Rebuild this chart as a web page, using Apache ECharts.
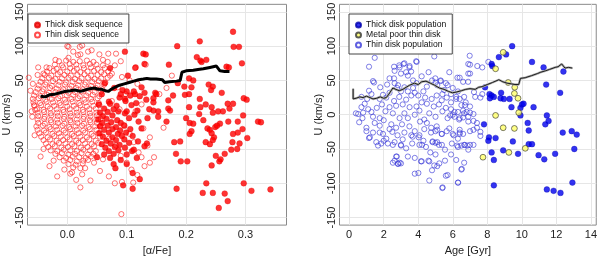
<!DOCTYPE html>
<html><head><meta charset="utf-8">
<script src="https://cdn.jsdelivr.net/npm/echarts@6/dist/echarts.min.js"></script>
<style>html,body{margin:0;padding:0;background:#fff}#c{width:600px;height:261px}</style>
</head><body><div id="c"></div>
<script>
// ---------- tick values ----------
const alphaTicks = [0.0, 0.1, 0.2, 0.3];
const ageTicks = [0, 2, 4, 6, 8, 10, 12, 14];
const uTicks = [-150, -100, -50, 0, 50, 100, 150];

// ---------- left panel: [alpha/Fe, U] ----------
const thinSequence = [
[-0.065,54],[0.000,100],[0.025,101],[0.041,94],[0.022,88],[0.002,83],[-0.049,69],[0.069,89],[0.082,89],[0.054,88],[0.068,77],[0.114,68],[0.132,73],[-0.056,14],[-0.054,7],[-0.060,5],[-0.059,-3],[-0.045,-61],[-0.023,-67],[-0.017,-90],[0.005,-86],[0.008,-84],[0.025,-87],[0.022,-106],[0.039,-96],[0.091,-145],[0.092,-98],[0.111,-99],[0.176,57],[0.167,39],[0.155,30],[0.139,-33],[0.146,-62],[0.139,-70],[0.162,-19],[0.021,99],[0.002,99],[0.018,87],[-0.035,69],[0.035,92],[0.010,92],[-0.020,80],[-0.040,60],[0.060,80],[0.090,78],[0.080,72],[0.075,60],[-0.062,35],[-0.058,45],[-0.050,58],[-0.055,-30],[-0.040,-50],[-0.030,-75],[-0.005,-80],[0.015,-95],[0.030,-78],[0.045,-70],[0.055,-82],[0.060,-65],[0.070,-90],[0.080,-100],
[0.075,20],[0.088,8],[0.095,-15],[0.105,-28],[0.112,-40],[0.120,-55],[0.125,-62],[0.130,-75],[0.100,-70],[0.108,-80],[0.118,-88],[0.090,-60],[0.082,-45],[0.070,-35],[0.128,-20],[0.135,-45],[0.115,5],[0.125,15],[0.098,30],[0.085,40],[0.092,55],[0.105,50],[0.118,45],
[-0.014,78],[-0.002,79],[0.010,77],[0.021,78],[0.033,79],[0.044,77],
[-0.021,73],[-0.009,72],[0.004,74],[0.015,73],[0.027,72],[0.038,74],[0.049,73],[0.060,72],
[-0.030,68],[-0.018,67],[-0.007,69],[0.005,68],[0.016,67],[0.028,68],[0.040,69],[0.051,67],[0.063,68],
[-0.034,63],[-0.023,64],[-0.012,62],[0.000,63],[0.011,64],[0.022,62],[0.034,63],[0.045,64],[0.057,62],[0.069,63],
[-0.038,58],[-0.027,57],[-0.016,59],[-0.005,58],[0.006,57],[0.017,58],[0.029,59],[0.040,57],[0.051,58],[0.062,59],[0.072,57],
[-0.042,53],[-0.031,54],[-0.020,52],[-0.009,53],[0.002,54],[0.013,52],[0.024,53],[0.035,54],[0.046,52],[0.057,53],[0.068,54],
[-0.045,48],[-0.035,47],[-0.024,49],[-0.013,48],[-0.002,47],[0.009,48],[0.020,49],[0.031,47],[0.042,48],[0.053,49],[0.064,47],
[-0.048,43],[-0.037,44],[-0.026,42],[-0.015,43],[-0.004,44],[0.007,42],[0.018,43],[0.029,44],[0.040,42],[0.051,43],[0.062,44],
[-0.050,38],[-0.040,37],[-0.029,39],[-0.018,38],[-0.007,37],[0.004,38],[0.015,39],[0.026,37],[0.037,38],[0.048,39],[0.059,37],
[-0.053,33],[-0.042,34],[-0.031,32],[-0.020,33],[-0.009,34],[0.002,32],[0.013,33],[0.024,34],[0.035,32],[0.046,33],[0.057,34],
[-0.056,28],[-0.045,27],[-0.034,29],[-0.023,28],[-0.012,27],[-0.001,28],[0.010,29],[0.021,27],[0.032,28],[0.043,29],[0.054,27],
[-0.058,23],[-0.048,24],[-0.037,22],[-0.026,23],[-0.015,24],[-0.004,22],[0.007,23],[0.018,24],[0.029,22],[0.040,23],[0.051,24],
[-0.057,18],[-0.046,17],[-0.035,19],[-0.024,18],[-0.013,17],[-0.002,18],[0.009,19],[0.020,17],[0.031,18],[0.042,19],[0.053,17],
[-0.055,13],[-0.044,14],[-0.033,12],[-0.022,13],[-0.011,14],[0.000,12],[0.011,13],[0.022,14],[0.033,12],[0.044,13],[0.054,14],
[-0.051,8],[-0.040,7],[-0.029,9],[-0.018,8],[-0.007,7],[0.004,8],[0.015,9],[0.026,7],[0.037,8],[0.048,9],
[-0.050,3],[-0.039,4],[-0.028,2],[-0.017,3],[-0.006,4],[0.005,2],[0.016,3],[0.027,4],[0.038,2],[0.049,3],
[-0.049,-2],[-0.038,-3],[-0.027,-1],[-0.016,-2],[-0.005,-3],[0.006,-2],[0.017,-1],[0.028,-3],[0.039,-2],[0.050,-1],
[-0.050,-7],[-0.039,-6],[-0.028,-8],[-0.017,-7],[-0.006,-6],[0.005,-8],[0.016,-7],[0.027,-6],[0.038,-8],[0.049,-7],[0.056,-6],
[-0.049,-12],[-0.038,-13],[-0.027,-11],[-0.016,-12],[-0.005,-13],[0.006,-11],[0.017,-12],[0.028,-13],[0.039,-11],[0.050,-12],
[-0.052,-17],[-0.041,-16],[-0.030,-18],[-0.019,-17],[-0.008,-16],[0.003,-18],[0.014,-17],[0.025,-16],[0.036,-18],[0.047,-17],[0.056,-16],
[-0.050,-22],[-0.039,-23],[-0.028,-21],[-0.017,-22],[-0.006,-23],[0.005,-21],[0.016,-22],[0.027,-23],[0.038,-21],[0.049,-22],
[-0.047,-27],[-0.036,-26],[-0.025,-28],[-0.014,-27],[-0.003,-26],[0.008,-28],[0.019,-27],[0.030,-26],[0.041,-28],[0.052,-27],
[-0.044,-32],[-0.033,-33],[-0.022,-31],[-0.011,-32],[0.000,-33],[0.011,-31],[0.022,-32],[0.033,-33],[0.044,-31],[0.055,-32],
[-0.040,-37],[-0.029,-36],[-0.018,-38],[-0.007,-37],[0.004,-36],[0.015,-38],[0.026,-37],[0.037,-36],[0.048,-38],
[-0.036,-42],[-0.025,-43],[-0.014,-41],[-0.003,-42],[0.008,-43],[0.019,-41],[0.030,-42],[0.041,-43],[0.052,-41],
[-0.032,-47],[-0.021,-46],[-0.010,-48],[0.001,-47],[0.012,-46],[0.023,-48],[0.034,-47],[0.045,-46],
[-0.028,-52],[-0.017,-53],[-0.006,-51],[0.005,-52],[0.016,-53],[0.027,-51],[0.038,-52],[0.048,-53],
[-0.020,-57],[-0.009,-56],[0.002,-58],[0.013,-57],[0.024,-56],[0.035,-58],[0.044,-57],
[-0.013,-62],[-0.002,-63],[0.009,-61],[0.020,-62],[0.031,-63],[0.040,-61],
[-0.006,-67],[0.005,-66],[0.016,-68],[0.027,-67],[0.035,-66],
[0.002,-72],[0.014,-73],[0.026,-71],[0.010,-77],[0.022,-78]
];

const thickSequence = [
[0.097,92],[0.128,89],[0.132,88],[0.072,68],[0.279,121],[0.223,107],[0.185,100],[0.280,99],[0.289,99],[0.218,84],[0.224,79],[0.226,77],[0.234,80],[0.294,75],[0.171,73],[0.268,70],[0.272,69],[0.205,53],[0.212,50],[0.186,46],[0.197,41],[0.209,40],[0.238,44],[0.245,41],[0.242,36],[0.260,32],[0.148,32],[0.150,30],[0.178,28],[0.198,29],[0.205,30],[0.170,21],[0.145,24],[0.223,23],[0.297,24],[0.302,22],[0.233,15],[0.243,11],[0.254,5],[0.262,5],[0.245,3],[0.224,11],[0.222,1],[0.205,11],[0.270,16],[0.279,16],[0.273,9],[0.296,-1],[0.200,-5],[0.170,9],[0.173,6],[0.153,5],[0.153,-3],[0.206,-12],[0.212,-13],[0.229,-8],[0.257,-13],[0.271,-10],[0.287,-10],[0.321,-10],[0.326,-11],[0.167,-10],[0.145,18],[0.145,6],
[0.209,-24],[0.206,-28],[0.180,-40],[0.190,-39],[0.183,-57],[0.191,-68],[0.202,-68],[0.184,-108],[0.236,-20],[0.240,-22],[0.243,-27],[0.247,-33],[0.249,-18],[0.252,-16],[0.233,-40],[0.240,-43],[0.245,-37],[0.250,-60],[0.256,-68],[0.258,-65],[0.243,-74],[0.265,-57],[0.276,-51],[0.278,-40],[0.279,-28],[0.287,-26],[0.295,-21],[0.303,-34],[0.290,-42],[0.286,-50],[0.234,-100],[0.228,-114],[0.245,-114],[0.265,-115],[0.270,-126],[0.255,-136],[0.297,-100],[0.310,-111],[0.342,-109],
[0.050,-62],[0.081,-78],[0.094,-103],[0.110,-108],[0.110,-85],[0.122,-94],[0.134,-42],[0.117,-63],[0.109,-53],
[0.102,57],[0.115,69],[0.130,74],[0.063,46],[0.079,39],[0.093,36],[0.100,34],[0.114,30],[0.122,27],[0.130,32],[0.088,25],[0.097,23],
[0.058,30],[0.070,19],[0.090,30],[0.098,20],[0.106,28],[0.112,34],[0.116,17],[0.118,6],[0.100,5],[0.125,40],[0.133,22],[0.138,8],[0.135,-5],
[0.053,15],[0.072,16],[0.083,13],[0.108,14],
[0.062,9],[0.078,8],
[0.055,3],[0.068,4],[0.086,5],[0.097,2],
[0.060,-2],[0.076,-1],[0.113,0],
[0.052,-7],[0.066,-6],[0.084,-8],[0.104,-5],
[0.059,-12],[0.074,-11],[0.090,-12],[0.120,-10],
[0.055,-17],[0.068,-16],[0.082,-18],[0.096,-16],
[0.062,-22],[0.076,-21],[0.089,-23],[0.106,-21],[0.125,-20],
[0.054,-27],[0.070,-26],[0.085,-28],[0.099,-26],
[0.060,-32],[0.076,-33],[0.092,-31],[0.110,-31],
[0.066,-38],[0.082,-37],[0.096,-36],
[0.058,-43],[0.073,-42],[0.088,-44],[0.104,-41],[0.119,-39],
[0.064,-48],[0.080,-47],[0.097,-48],[0.130,-46],
[0.070,-53],[0.086,-52],[0.112,-51],
[0.062,-58],[0.078,-57],[0.100,-58],
[0.072,-63],[0.090,-66],[0.078,-72],[0.100,-72]
];

// running curve, left panel
const alphaCurve = [
[-0.045,27],[-0.037,26],[-0.030,29],[-0.021,30],[-0.012,32],[-0.004,34],[0.005,35],[0.013,36],[0.022,34],[0.030,36],[0.038,38],[0.046,39],[0.052,37],[0.058,37],[0.064,35],[0.069,34],[0.074,37],[0.080,40],[0.088,43],[0.096,45],[0.104,47],[0.112,49],[0.120,51],[0.128,52],[0.134,53],[0.140,52],[0.150,52],[0.160,51],[0.164,47],[0.172,48],[0.184,49],[0.190,50],[0.193,62],[0.200,64],[0.212,65],[0.220,66],[0.229,67],[0.240,69],[0.251,71],[0.254,73],[0.257,64],[0.265,63],[0.273,63]
];

// ---------- right panel: [Age, U] ----------
const thinPopulation = [
[1.48,83],[1.15,70],[2.63,64],[2.92,69],[3.15,74],[3.49,69],[3.59,63],[3.91,77],[2.60,53],[3.00,60],[3.30,62],[3.40,57],[1.38,49],[1.44,47],[1.15,35],[1.29,30],[1.04,23],[0.71,26],[0.90,16],[0.52,1],[0.81,3],[0.77,-5],[1.10,8],[1.29,4],[1.38,-3],[1.77,-5],[1.48,-12],[1.77,23],[1.96,29],[2.15,25],[2.34,32],
[2.83,43],[2.78,39],[3.00,34],[3.20,40],[3.40,34],[3.70,39],[3.90,46],[3.80,32],[4.00,28],[4.30,34],[4.50,41],
[4.99,53],[5.30,50],[5.10,43],[5.50,36],[5.70,43],[6.00,39],[6.30,34],[6.60,48],[7.00,60],[7.00,73],[6.40,54],
[4.50,16],[4.78,23],[5.07,28],[5.36,21],[5.65,25],[5.90,18],[6.20,23],[6.50,14],[6.75,18],
[2.34,11],[2.53,2],[2.72,13],[2.92,-5],[3.20,2],[3.50,11],[3.80,0],[4.07,6],[4.35,-7],[4.64,2],[5.00,-3],[5.40,5],[5.70,-5],[6.00,0],[6.37,-7],[6.66,2],
[2.44,-14],[2.72,-19],[3.06,-14],[3.20,-26],[3.49,-17],[3.80,-24],[4.07,-30],[4.35,-21],[4.74,-26],[5.07,-17],[5.36,-28],[5.65,-24],[6.05,-30],[6.40,-26],
[1.77,-16],[1.96,-28],[2.15,-35],[2.34,-21],[1.38,-26],[1.20,-33],[1.57,-40],[1.86,-42],[1.00,-19],
[2.63,-40],[3.00,-44],[3.30,-49],[3.65,-42],[4.07,-44],[4.45,-47],[4.83,-40],[5.20,-44],[5.55,-51],[5.95,-42],[6.30,-47],[6.66,-44],
[2.72,-61],[2.92,-70],[3.40,-61],[3.80,-63],[4.16,-68],[4.64,-68],[5.10,-75],[5.55,-67],[6.20,-66],[6.66,-70],
[3.80,-86],[4.64,-96],[5.40,-107],[6.30,-99],[5.70,-88],[6.50,-80],[2.53,-70],[2.83,-72],
[1.15,-34],[1.67,-45],[1.77,-26],[2.00,-38],[2.24,-42],[2.53,-44],[2.50,-25],[2.76,-61],[2.63,-67],[2.82,-71],[3.00,-71],[3.00,-45],[3.68,-32],[4.03,-33],[4.22,-44],[4.01,-85],[4.20,-68],[4.59,-67],[4.80,-81],[4.93,-74],[5.22,-71],[5.41,-106],[5.60,-89],[4.83,-39],[5.00,-41],[5.37,-44],[5.10,-40],[4.75,-19],[5.00,-24],[5.37,-28],[5.10,-22],[1.00,-24],
[6.98,86],[6.90,74],[7.42,71],[7.71,69],[8.06,77],[6.90,60],[6.27,54],[6.89,48],[5.90,30],[6.20,26],[6.40,23],[6.66,26],[7.23,33],[7.30,26],[7.60,25],[7.71,30],[6.70,14],[7.00,12],[6.60,6],[6.80,4],[7.00,3],[7.20,1],[6.90,-3],[5.90,8],[6.10,4],[6.30,4],[5.85,-1],[6.10,-3],[6.40,-5],[6.60,-4],[6.90,-10],[7.20,-9],[7.40,-12],[5.80,-20],[6.00,-28],[6.40,-22],[6.40,-28],[6.60,-28],[7.00,-24],[7.20,-22],[7.40,-19],[7.60,-25],[7.60,-31],[6.30,-35],[6.25,-45],[6.50,-45],[6.70,-44],[6.85,-45],[7.00,-44],[7.20,-44],[6.90,-51],[6.52,-79],[6.31,-99],
[3.88,78],[4.93,85],[2.60,70],[2.90,72],[3.20,75],[3.50,71],[2.34,53],[2.63,46],[4.80,50],[5.00,47],[5.30,49],[5.60,46],[0.39,2],[0.71,11],[0.58,-11],
[1.60,10],[1.90,15],[2.10,5],[2.00,-8],[2.60,20],[2.90,26],[3.10,15],[3.30,22],[3.60,28],[3.90,12],[4.20,18],[4.40,25],[4.10,-10],[4.50,-12],[4.90,12],[5.20,15],[5.60,10],[3.60,-30],[3.40,-5],[2.80,-30],[3.10,-36],[4.30,-38],[4.70,-55],[5.00,-58],[5.90,-58],[3.70,50],[4.20,56],[4.60,62],[2.20,44],[1.80,40],[5.80,62],[5.40,30]
];

const thickPopulation = [
[9.44,100],[8.67,84],[9.09,88],[8.25,74],[8.29,71],[10.59,77],[11.26,69],[12.41,63],[11.41,44],[12.22,32],[7.87,40],[8.13,30],[8.25,28],[8.38,26],[8.15,24],[8.80,32],[8.77,24],[8.96,23],[9.29,23],[9.40,11],[9.92,10],[10.01,15],[10.10,16],[9.92,-1],[10.68,11],[11.45,-1],[10.34,-12],[11.36,-14],[11.55,-9],[7.81,-14],[10.40,-23],[8.10,-33],[8.06,-38],[8.48,-34],[9.48,-39],[10.40,-43],[10.59,-43],[12.37,-26],[12.89,-24],[13.18,-29],[13.04,-50],[8.25,-55],[8.38,-66],[8.92,-52],[9.78,-57],[10.97,-59],[11.30,-65],[11.93,-57],[8.38,-103],[11.45,-109],[11.84,-111],[12.24,-114],[12.93,-99]
];

const metalPoorThin = [
[8.92,91],[8.48,67],[9.21,47],[9.59,40],[9.57,31],[9.78,24],[9.82,3],[8.48,-1],[8.92,-19],[9.57,-20],[10.20,-49],[9.25,-55],[7.75,-62]
];

// running curve, right panel
const ageCurve = [
[0.23,38],[0.23,23],[0.40,24],[0.62,26],[0.80,25],[1.00,27],[1.20,25],[1.38,23],[1.60,24],[1.80,26],[2.00,24],[2.15,25],[2.30,30],[2.53,39],[2.70,37],[2.90,35],[3.11,37],[3.30,40],[3.50,43],[3.78,46],[4.00,44],[4.20,48],[4.45,49],[4.70,46],[4.95,43],[5.22,39],[5.50,37],[5.75,34],[5.98,32],[6.20,33],[6.50,35],[6.75,37],[7.00,38],[7.30,37],[7.50,40],[7.71,41],[8.00,44],[8.30,47],[8.67,51],[8.90,48],[9.15,46],[9.40,45],[9.60,44],[9.82,44],[9.92,53],[10.20,54],[10.57,57],[10.90,60],[11.10,62],[11.36,64],[11.60,66],[11.93,69],[12.10,70],[12.31,74],[12.50,68],[12.70,69],[12.93,68]
];

// ---------- chart ----------
const FONT = '"Liberation Sans", Arial, sans-serif';
const chart = echarts.init(document.getElementById('c'), null, {renderer: 'canvas'});

function gridLines(xt, yt) {
  return {
    silent: true, symbol: 'none', z: 1, animation: false,
    label: {show: false},
    lineStyle: {color: '#e6e6e6', width: 1, type: 'solid'},
    emphasis: {disabled: true},
    data: xt.map(v => ({xAxis: v})).concat(yt.map(v => ({yAxis: v})))
  };
}

function xAx(idx, min, max, ticks, name, fmt) {
  return {
    gridIndex: idx, type: 'value', min: min, max: max,
    axisLine: {show: false}, splitLine: {show: false},
    axisTick: {show: false},
    axisLabel: {customValues: ticks, formatter: fmt, fontFamily: FONT, fontSize: 11, color: '#222', margin: 4},
    name: name, nameLocation: 'middle', nameGap: 16,
    nameTextStyle: {fontFamily: FONT, fontSize: 11, color: '#222'}
  };
}
function yAx(idx) {
  return {
    gridIndex: idx, type: 'value', min: -161, max: 161,
    axisLine: {show: false}, splitLine: {show: false},
    axisTick: {show: true, customValues: uTicks, length: 3, lineStyle: {color: '#555'}},
    axisLabel: {customValues: uTicks, rotate: 90, fontFamily: FONT, fontSize: 11, color: '#222', margin: 2},
    name: 'U (km/s)', nameLocation: 'middle', nameGap: 15,
    nameTextStyle: {fontFamily: FONT, fontSize: 11, color: '#222'}
  };
}

const legendCommon = {
  orient: 'vertical', backgroundColor: '#fff', borderColor: '#444', borderWidth: 1,
  borderRadius: 0, itemGap: 0, itemWidth: 5, itemHeight: 5, icon: 'circle',
  textStyle: {fontFamily: FONT, fontSize: 8.6, color: '#111', lineHeight: 10},
  selectedMode: false
};

chart.setOption({
  animation: false,
  backgroundColor: '#fff',
  grid: [
    {left: 27.5, top: 2, width: 259, height: 232, show: true, borderColor: '#8a8a8a', borderWidth: 1, backgroundColor: 'transparent'},
    {left: 339.5, top: 2, width: 258.5, height: 232, show: true, borderColor: '#8a8a8a', borderWidth: 1, backgroundColor: 'transparent'}
  ],
  xAxis: [
    xAx(0, -0.067, 0.369, alphaTicks, '[\u03b1/Fe]', v => v.toFixed(1)),
    xAx(1, -0.56, 14.31, ageTicks, 'Age [Gyr]', v => String(v))
  ],
  yAxis: [yAx(0), yAx(1)],
  legend: [
    Object.assign({}, legendCommon, {left: 28, top: 14, padding: [6, 6, 3, 6],
      data: ['Thick disk sequence', 'Thin disk sequence']}),
    Object.assign({}, legendCommon, {left: 349, top: 14, padding: [6, 6, 4, 6],
      data: ['Thick disk population', 'Metal poor thin disk', 'Thin disk population']})
  ],
  series: [
    {type: 'scatter', name: 'gridL', xAxisIndex: 0, yAxisIndex: 0, data: [], z: 1, markLine: gridLines(alphaTicks, uTicks)},
    {type: 'scatter', name: 'gridR', xAxisIndex: 1, yAxisIndex: 1, data: [], z: 1, markLine: gridLines(ageTicks, uTicks)},
    {type: 'scatter', name: 'Thin disk sequence', xAxisIndex: 0, yAxisIndex: 0, data: thinSequence,
      symbol: 'circle', symbolSize: 5.2, z: 2,
      itemStyle: {color: 'rgba(255,255,255,0)', borderColor: '#ff2020', borderWidth: 0.8}},
    {type: 'scatter', name: 'Thick disk sequence', xAxisIndex: 0, yAxisIndex: 0, data: thickSequence,
      symbol: 'circle', symbolSize: 5.8, z: 3,
      itemStyle: {color: '#ff0000', borderColor: '#e00000', borderWidth: 0.4}},
    {type: 'line', name: 'curveL', xAxisIndex: 0, yAxisIndex: 0, data: alphaCurve, showSymbol: false, symbol: 'none', z: 4,
      lineStyle: {color: '#000', width: 3}},
    {type: 'scatter', name: 'Thin disk population', xAxisIndex: 1, yAxisIndex: 1, data: thinPopulation,
      symbol: 'circle', symbolSize: 5.2, z: 2,
      itemStyle: {color: 'rgba(255,255,255,0)', borderColor: '#3838d8', borderWidth: 0.8}},
    {type: 'scatter', name: 'Thick disk population', xAxisIndex: 1, yAxisIndex: 1, data: thickPopulation,
      symbol: 'circle', symbolSize: 5.8, z: 3,
      itemStyle: {color: '#0000ee', borderColor: '#0000aa', borderWidth: 0.4}},
    {type: 'scatter', name: 'Metal poor thin disk', xAxisIndex: 1, yAxisIndex: 1, data: metalPoorThin,
      symbol: 'circle', symbolSize: 5.8, z: 3,
      itemStyle: {color: '#ffff66', borderColor: '#333', borderWidth: 0.8}},
    {type: 'line', name: 'curveRshadow', xAxisIndex: 1, yAxisIndex: 1, data: ageCurve, showSymbol: false, symbol: 'none', z: 4,
      lineStyle: {color: '#b0b0b0', width: 2.4}},
    {type: 'line', name: 'curveR', xAxisIndex: 1, yAxisIndex: 1, data: ageCurve, showSymbol: false, symbol: 'none', z: 5,
      lineStyle: {color: '#1a1a1a', width: 1}}
  ]
});
</script>
</body></html>
